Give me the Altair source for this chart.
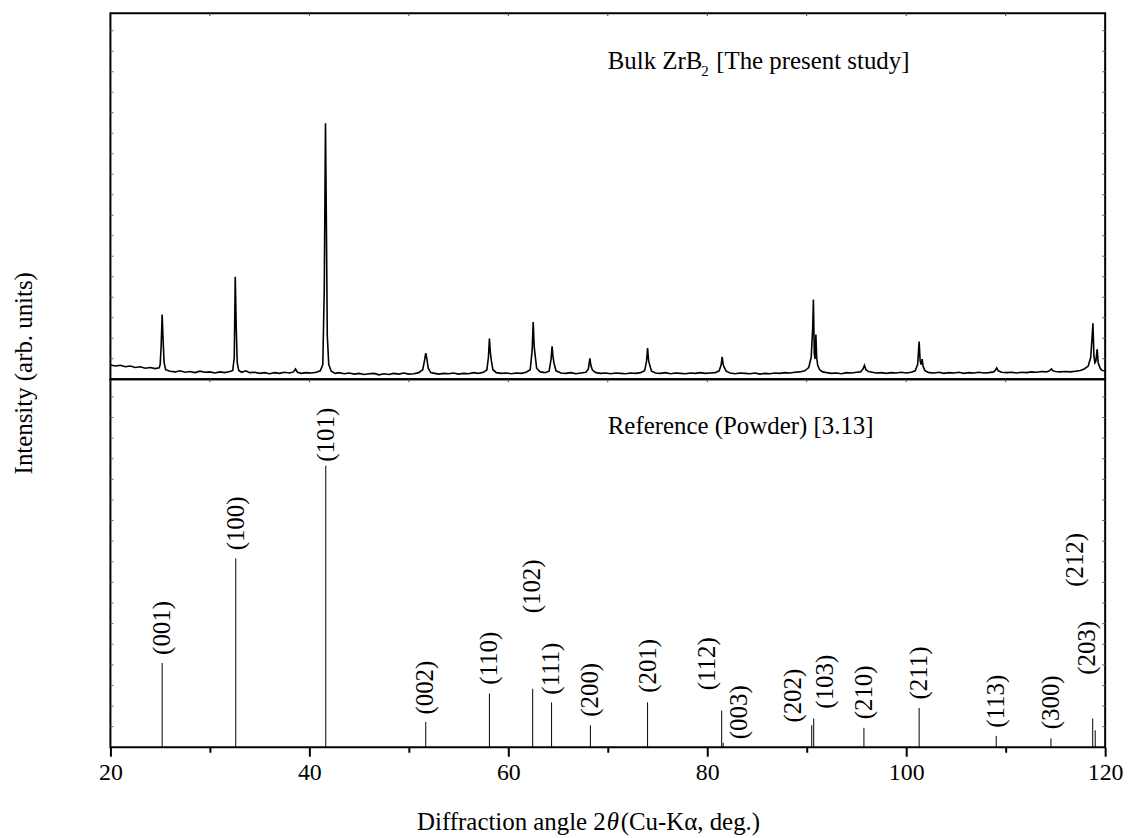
import altair as alt
import pandas as pd

xrd_angle = [
    20.0, 20.5, 21.0, 21.5, 22.0, 22.5, 23.0, 23.5, 24.0, 24.5, 24.9, 25.0, 25.1, 25.2, 25.3, 25.4, 25.55,
    26.0, 26.5, 27.0, 27.5, 28.0, 28.5, 29.0, 29.5, 30.0, 30.5, 31.0, 31.5, 32.0, 32.3, 32.45, 32.55,
    32.65, 32.75, 32.9, 33.2, 33.6, 34.0, 34.5, 35.0, 35.5, 36.0, 36.5, 37.0, 37.5, 38.0, 38.4, 38.6,
    38.8, 39.2, 39.7, 40.2, 40.7, 41.1, 41.35, 41.5, 41.62, 41.72, 41.8, 41.95, 42.2, 42.6, 43.0, 43.5,
    44.0, 44.5, 45.0, 45.5, 46.0, 46.5, 47.0, 47.5, 48.0, 48.5, 49.0, 49.5, 50.0, 50.5, 51.0, 51.4,
    51.6, 51.7, 51.8, 51.95, 52.2, 52.6, 53.0, 53.5, 54.0, 54.5, 55.0, 55.5, 56.0, 56.5, 57.0, 57.5,
    57.85, 58.0, 58.1, 58.2, 58.3, 58.45, 58.8, 59.3, 59.8, 60.3, 60.8, 61.3, 61.8, 62.2, 62.4, 62.5,
    62.6, 62.7, 62.85, 63.2, 63.7, 64.1, 64.3, 64.4, 64.5, 64.6, 64.8, 65.3, 65.8, 66.3, 66.8, 67.3,
    67.8, 68.05, 68.2, 68.3, 68.45, 68.8, 69.3, 69.8, 70.3, 70.8, 71.3, 71.8, 72.3, 72.8, 73.3, 73.7,
    73.9, 74.0, 74.1, 74.2, 74.4, 74.8, 75.3, 75.8, 76.3, 76.8, 77.3, 77.8, 78.3, 78.8, 79.3, 79.8,
    80.3, 80.8, 81.2, 81.4, 81.5, 81.6, 81.7, 81.9, 82.3, 82.8, 83.3, 83.8, 84.3, 84.8, 85.3, 85.8,
    86.3, 86.8, 87.3, 87.8, 88.3, 88.8, 89.3, 89.8, 90.2, 90.45, 90.6, 90.67, 90.76, 90.84, 90.92, 91.0,
    91.1, 91.3, 91.6, 92.0, 92.5, 93.0, 93.5, 94.0, 94.5, 95.0, 95.4, 95.65, 95.8, 95.95, 96.2, 96.6,
    97.0, 97.5, 98.0, 98.5, 99.0, 99.5, 100.0, 100.5, 100.9, 101.15, 101.3, 101.4, 101.5, 101.6, 101.7, 101.9,
    102.3, 102.8, 103.3, 103.8, 104.3, 104.8, 105.3, 105.8, 106.3, 106.8, 107.3, 107.8, 108.3, 108.8, 109.0, 109.1,
    109.25, 109.6, 110.1, 110.6, 111.1, 111.6, 112.1, 112.6, 113.1, 113.6, 114.1, 114.4, 114.6, 114.75, 115.0, 115.5,
    116.0, 116.5, 117.0, 117.5, 117.9, 118.3, 118.55, 118.7, 118.77, 118.87, 118.97, 119.07, 119.2, 119.3, 119.5, 119.7,
    120.0,
]
xrd_intensity = [
    3.9, 3.6, 3.8, 3.4, 3.6, 3.2, 3.4, 3.0, 3.2, 2.9, 3.1, 4.0, 9.0, 17.7, 10.5, 4.5, 2.6,
    2.2, 2.0, 2.3, 1.9, 2.1, 1.8, 2.2, 1.9, 2.0, 1.7, 2.0, 1.8, 2.1, 2.4, 6.0, 28.0,
    14.0, 4.5, 2.4, 1.9, 2.3, 1.8, 1.9, 1.6, 1.8, 1.5, 1.8, 1.6, 1.9, 1.7, 2.0, 2.8,
    1.9, 1.6, 1.8, 1.7, 1.9, 2.3, 4.0, 25.0, 69.9, 40.0, 12.0, 4.0, 2.2, 1.6, 1.8, 1.5,
    1.7, 1.4, 1.6, 1.3, 1.5, 1.6, 1.2, 1.5, 1.3, 1.6, 1.4, 1.7, 1.4, 1.5, 1.8, 2.6,
    5.5, 7.1, 5.8, 3.0, 1.8, 1.6, 1.4, 1.6, 1.5, 1.7, 1.4, 1.6, 1.5, 1.8, 1.6, 1.9,
    2.6, 6.0, 11.1, 7.2, 5.0, 2.6, 1.8, 1.6, 1.7, 1.5, 1.7, 1.6, 1.9, 2.6, 8.0, 15.6,
    9.0, 6.5, 3.0, 2.0, 1.8, 2.2, 5.5, 9.0, 6.0, 4.3, 2.3, 1.7, 1.6, 1.8, 1.5, 1.7,
    1.9, 2.8, 5.7, 3.8, 2.5, 1.8, 1.6, 1.7, 1.5, 1.7, 1.6, 1.5, 1.7, 1.6, 1.8, 2.3,
    5.0, 8.5, 5.2, 4.0, 2.2, 1.7, 1.6, 1.8, 1.5, 1.7, 1.6, 1.5, 1.7, 1.6, 1.8, 1.6,
    1.7, 1.8, 2.3, 4.0, 6.1, 4.0, 3.3, 2.2, 1.7, 1.5, 1.7, 1.6, 1.5, 1.7, 1.4, 1.6,
    1.5, 1.7, 1.6, 1.8, 1.7, 1.9, 2.0, 2.3, 3.2, 6.0, 14.0, 21.8, 7.0, 5.5, 12.2, 6.0,
    3.8, 2.6, 2.0, 1.8, 1.6, 1.7, 1.5, 1.8, 1.7, 1.9, 2.0, 2.8, 3.8, 2.6, 2.1, 1.9,
    1.7, 1.8, 1.6, 1.8, 1.7, 1.9, 1.7, 1.9, 2.3, 4.0, 10.3, 5.0, 4.0, 5.5, 3.5, 2.3,
    1.8, 1.7, 1.9, 1.6, 1.8, 1.7, 1.9, 1.6, 1.8, 1.7, 1.9, 1.7, 1.8, 2.0, 2.6, 3.1,
    2.3, 1.9, 1.8, 1.9, 1.7, 1.9, 1.8, 2.0, 1.9, 2.1, 2.0, 2.3, 2.8, 2.3, 2.1, 2.0,
    2.1, 2.0, 2.2, 2.4, 2.8, 3.6, 6.0, 12.0, 15.3, 6.5, 4.5, 5.0, 8.2, 4.5, 3.0, 2.4,
    2.3,
]

# ---------------- reference powder pattern (lower panel) ----------------
ref_hkl = ["(001)", "(100)", "(101)", "(002)", "(110)", "(102)", "(111)", "(200)", "(201)",
           "(112)", "(003)", "(202)", "(103)", "(210)", "(211)", "(113)", "(300)", "(212)", "(203)"]
ref_angle = [25.2, 32.6, 41.65, 51.7, 58.1, 62.45, 64.35, 68.25, 74.0,
             81.45, 81.6, 90.5, 90.7, 95.75, 101.3, 109.05, 114.55, 118.75, 119.0]
ref_intensity = [22.9, 51.3, 76.5, 6.9, 14.6, 15.9, 12.2, 6.0, 12.2,
                 10.0, 1.2, 6.0, 7.8, 5.3, 10.7, 3.1, 2.4, 7.8, 4.6]
# where each Miller-index label starts (bottom end of the rotated text)
label_angle = [25.17, 32.6, 41.67, 51.67, 58.1, 62.43, 64.33, 68.23, 74.0,
               80.0, 83.2, 88.6, 91.8, 95.73, 101.33, 109.07, 114.57, 117.0, 118.17]
label_height = [25.1, 53.5, 77.6, 8.9, 17.0, 36.4, 14.3, 8.3, 14.8,
                15.5, 2.2, 6.7, 10.5, 7.6, 13.0, 5.3, 4.9, 43.6, 19.7]

x_ticks = [20, 30, 40, 50, 60, 70, 80, 90, 100, 110, 120]
inner_x_ticks = [30, 40, 50, 60, 70, 80, 90, 100, 110]
inner_y_ticks = [5.6, 11.2, 16.8, 22.4, 28.0, 33.6, 39.2, 44.8, 50.4, 56.0,
                 61.6, 67.2, 72.8, 78.4, 84.0, 89.6, 95.2]

FONT = "Liberation Serif"
W = 1000
H_TOP = 368
H_BOT = 370

meas = pd.DataFrame({"angle": xrd_angle, "intensity": xrd_intensity})
ref = pd.DataFrame({"hkl": ref_hkl, "angle": ref_angle, "intensity": ref_intensity,
                    "label_angle": label_angle, "label_height": label_height})
xt = pd.DataFrame({"v": inner_x_ticks})
yt = pd.DataFrame({"v": inner_y_ticks})

xscale = alt.Scale(domain=[20, 120], nice=False, zero=False)
yscale = alt.Scale(domain=[0, 100], nice=False)

one = pd.DataFrame({"k": [0]})


def note(text, x, y, size=25, align="left", baseline="alphabetic", angle=0, style="normal"):
    return alt.Chart(one).mark_text(
        text=text, font=FONT, fontSize=size, align=align, baseline=baseline,
        angle=angle, fontStyle=style, color="black"
    ).encode(x=alt.value(x), y=alt.value(y))


def inner_ticks():
    top_t = alt.Chart(xt).mark_rule(color="#444", strokeWidth=1).encode(
        x=alt.X("v:Q", scale=xscale), y=alt.value(0), y2=alt.value(3))
    left_t = alt.Chart(yt).mark_rule(color="#666", strokeWidth=1).encode(
        y=alt.Y("v:Q", scale=yscale), x=alt.value(0), x2=alt.value(3))
    right_t = alt.Chart(yt).mark_rule(color="#666", strokeWidth=1).encode(
        y=alt.Y("v:Q", scale=yscale), x=alt.value(W - 3), x2=alt.value(W))
    return [top_t, left_t, right_t]


# ---------------- upper panel ----------------
curve = alt.Chart(meas).mark_line(color="black", strokeWidth=1.6).encode(
    x=alt.X("angle:Q", scale=xscale, axis=None),
    y=alt.Y("intensity:Q", scale=yscale, axis=None),
)

top = alt.layer(
    curve,
    *inner_ticks(),
    note("Bulk ZrB", 500, 56),
    note("2", 594, 63, size=15),
    note("[The present study]", 609, 56),
    note("Intensity (arb. units)", -87, 362, align="center", baseline="middle", angle=270),
).properties(width=W, height=H_TOP)

# ---------------- lower panel ----------------
sticks = alt.Chart(ref).mark_rule(color="black", strokeWidth=1).encode(
    x=alt.X("angle:Q", scale=xscale,
            axis=alt.Axis(values=x_ticks, title=None, grid=False, domain=False,
                          labelExpr="datum.value % 20 === 0 ? datum.label : ''",
                          tickSize={"condition": {"test": "datum.value % 20 === 0", "value": 9}, "value": 5},
                          tickWidth=2, tickColor="black", labelFont=FONT, labelFontSize=24,
                          labelColor="black", labelPadding=4, labelFlush=False, labelOverlap=False)),
    y=alt.Y("intensity:Q", scale=yscale, axis=None),
    y2=alt.datum(0),
)

labels = alt.Chart(ref).mark_text(
    angle=270, align="left", baseline="middle", font=FONT, fontSize=25, color="black"
).encode(
    x=alt.X("label_angle:Q", scale=xscale),
    y=alt.Y("label_height:Q", scale=yscale),
    text="hkl:N",
)

bottom = alt.layer(
    sticks,
    labels,
    *inner_ticks(),
    note("Reference (Powder) [3.13]", 500, 55),
    note("Diffraction angle 2", 498, 445, align="right", baseline="middle"),
    note("θ", 499, 445, baseline="middle", style="italic"),
    note("(Cu-Kα, deg.)", 513, 445, baseline="middle"),
).properties(width=W, height=H_BOT)

chart = alt.vconcat(top, bottom, spacing=0, bounds="flush").properties(
    padding={"left": 11, "top": 9, "right": 10, "bottom": 5}
).configure_view(stroke="black", strokeWidth=2)

chart.save("out.html", embed_options={"renderer": "svg", "actions": False})
